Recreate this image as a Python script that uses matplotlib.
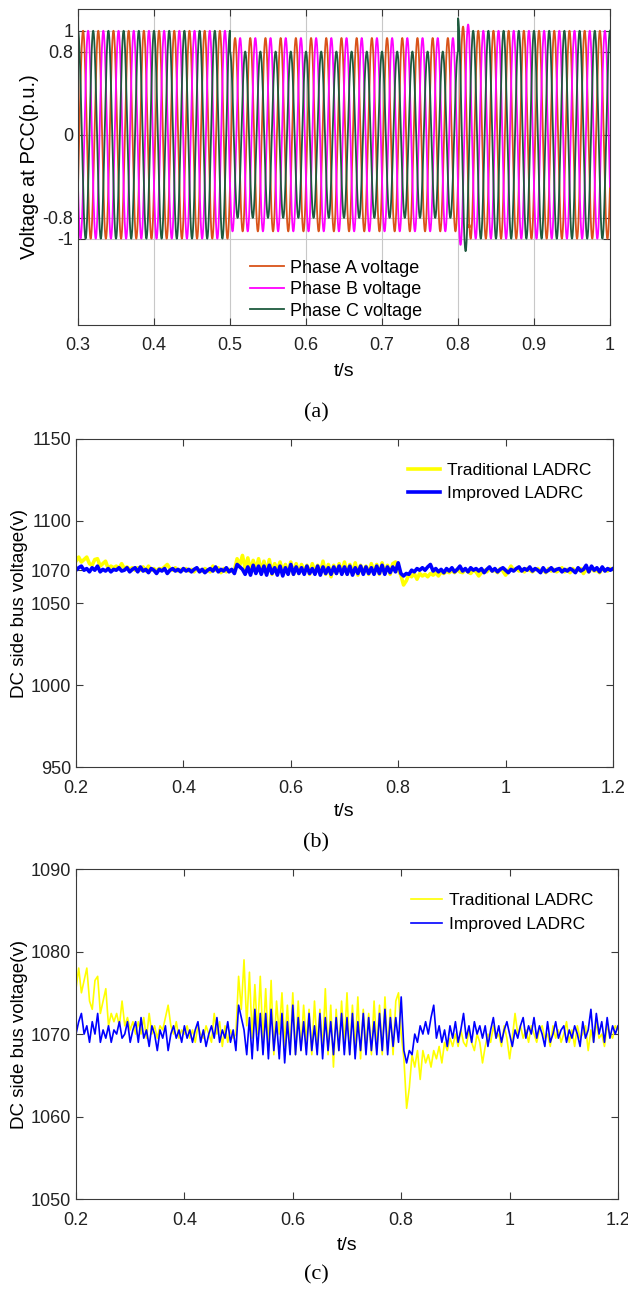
import matplotlib
matplotlib.use("Agg")
import matplotlib.pyplot as plt
import numpy as np

plt.rcParams['font.family'] = ['Liberation Sans', 'DejaVu Sans']

# ---- panel (a): three phase voltage at PCC ----
f_grid = 50.0
seg_edges = [0.3, 0.5, 0.8, 0.815, 1.0]
amp_A = [1.0, 0.93, 1.04, 1.0]
amp_B = [1.0, 0.93, 1.06, 1.0]
amp_C = [1.0, 0.80, 1.12, 1.0]
phase_shift = [-np.pi / 6, -5 * np.pi / 6, np.pi / 2]
phase_names = ['Phase A voltage', 'Phase B voltage', 'Phase C voltage']
phase_colors = ['#D95319', '#FF00FF', '#1E5A3E']

# ---- panels (b), (c): DC side bus voltage, sampled every 5 ms from 0.2 s ----
t_dc_start = 0.2
t_dc_step = 0.005
v_trad = [
    1075.5, 1078, 1075, 1076.5, 1078, 1074, 1073, 1076.5, 1077, 1072.5,
    1074, 1075.5, 1071, 1072.5, 1071.5, 1072.5, 1071, 1074, 1071, 1072,
    1070.5, 1071.5, 1070, 1071.5, 1070, 1072, 1069.5, 1072.5, 1070, 1071,
    1069.5, 1071, 1070.5, 1072, 1073.5, 1071, 1070, 1071.5, 1069.5, 1070.5,
    1070, 1071, 1069.5, 1070.5, 1069, 1071, 1070, 1069.5, 1071, 1070,
    1069, 1072.5, 1070, 1071.5, 1068.5, 1071, 1069, 1070.5, 1069.5, 1070,
    1077, 1073, 1079, 1071, 1077.5, 1069.5, 1076, 1070, 1077, 1069,
    1075.5, 1068, 1076.5, 1067.5, 1074, 1070, 1075, 1068.5, 1073.5, 1068,
    1075, 1067.5, 1074, 1068, 1073.5, 1069, 1073, 1067.5, 1074, 1068.5,
    1073, 1068, 1075.5, 1067.5, 1073.5, 1066, 1073, 1068, 1074, 1068.5,
    1075, 1067.5, 1073.5, 1068, 1074.5, 1067, 1073, 1068.5, 1072.5, 1067.5,
    1074, 1068, 1073.5, 1067.5, 1074.5, 1068, 1073, 1067.5, 1074, 1075,
    1070, 1067, 1061, 1063.5, 1067.5, 1066, 1068, 1064.5, 1068, 1066.5,
    1067.5, 1066, 1068, 1067, 1068.5, 1066.5, 1069, 1068, 1069.5, 1068.5,
    1070, 1068.5, 1070.5, 1069, 1068.5, 1070.5, 1069, 1068, 1070, 1069,
    1066.5, 1068.5, 1070, 1069, 1071, 1069.5, 1070, 1068.5, 1071, 1069.5,
    1067, 1069.5, 1072.5, 1070, 1071, 1069.5, 1070.5, 1069, 1071, 1070,
    1069, 1070.5, 1071, 1069.5, 1070, 1068.5, 1071, 1069.5, 1070.5, 1069,
    1070, 1071.5, 1069, 1070.5, 1068.5, 1071, 1069.5, 1070, 1071, 1068,
    1070.5, 1069, 1071.5, 1069.5, 1070, 1068.5, 1071, 1070, 1069.5, 1071,
    1070.5,
]
v_impr = [
    1070, 1071.5, 1072.5, 1070, 1071, 1069, 1071.5, 1070, 1072.5, 1069,
    1070.5, 1069.5, 1071, 1069, 1070.5, 1070, 1071.5, 1069.5, 1070, 1071.5,
    1069, 1070.5, 1071.5, 1069, 1072, 1069.5, 1070.5, 1068.5, 1071, 1070,
    1068, 1070.5, 1069.5, 1071, 1068, 1070, 1071, 1069.5, 1070.5, 1069,
    1071, 1069.5, 1070.5, 1069, 1070.5, 1071.5, 1069, 1070.5, 1068.5, 1070,
    1071, 1069.5, 1072, 1069, 1070.5, 1069.5, 1071.5, 1069, 1070.5, 1068,
    1073.5, 1072, 1070.5, 1067.5, 1072, 1067, 1073, 1068, 1072.5, 1067.5,
    1072.5, 1067, 1073, 1068, 1071.5, 1067, 1072.5, 1066.5, 1071.5, 1067.5,
    1073.5, 1067.5, 1072, 1068, 1071.5, 1067.5, 1072.5, 1068, 1071, 1067.5,
    1072.5, 1067, 1072, 1068, 1071.5, 1067.5, 1072, 1068, 1072.5, 1067.5,
    1072, 1067.5, 1072.5, 1067, 1071.5, 1068, 1072.5, 1067.5, 1072, 1068,
    1071.5, 1067.5, 1072.5, 1068, 1073, 1067.5, 1072, 1068.5, 1072, 1069,
    1074.5, 1068, 1066.5, 1068, 1067.5, 1070, 1069, 1071, 1070, 1071.5,
    1070, 1072, 1073.5, 1069.5, 1071, 1069, 1070.5, 1068.5, 1071, 1069.5,
    1071.5, 1069, 1070.5, 1072.5, 1069.5, 1071, 1069, 1071.5, 1070, 1071,
    1069.5, 1071, 1068.5, 1070.5, 1072, 1069.5, 1071, 1069, 1070.5, 1071.5,
    1070, 1068.5, 1070.5, 1069.5, 1071, 1072, 1069.5, 1071, 1070, 1072,
    1069.5, 1071, 1070, 1068.5, 1071.5, 1069, 1070, 1071.5, 1069.5, 1070.5,
    1071, 1069, 1070.5, 1069.5, 1071, 1070, 1068.5, 1071.5, 1069.5, 1070.5,
    1073, 1069, 1072.5, 1070, 1071.5, 1069, 1072, 1069.5, 1071, 1070,
    1071,
]
dc_names = ['Traditional LADRC', 'Improved LADRC']
dc_colors = ['#FFFF00', '#0000FF']

xt_a = [0.3, 0.4, 0.5, 0.6, 0.7, 0.8, 0.9, 1.0]
xt_a_lab = ['0.3', '0.4', '0.5', '0.6', '0.7', '0.8', '0.9', '1']
yt_a = [-1, -0.8, 0, 0.8, 1]
yt_a_lab = ['-1', '-0.8', '0', '0.8', '1']
xt_dc = [0.2, 0.4, 0.6, 0.8, 1.0, 1.2]
xt_dc_lab = ['0.2', '0.4', '0.6', '0.8', '1', '1.2']
yt_b = [950, 1000, 1050, 1070, 1100, 1150]
yt_c = [1050, 1060, 1070, 1080, 1090]

axcol = '#3a3a3a'
fs = 13


def style(ax):
    ax.tick_params(direction='in', top=True, right=True, length=5, width=0.8,
                   colors=axcol, labelcolor='#222222', labelsize=fs)
    ax.tick_params(axis='x', pad=9)
    for s in ax.spines.values():
        s.set_color(axcol)
        s.set_linewidth(0.8)


fig = plt.figure(figsize=(6.28, 12.90), dpi=100)

# (a)
ax1 = fig.add_axes([0.1242, 0.7481, 0.8471, 0.2450])
t = np.linspace(0.3, 1.0, 14001)
amps = [amp_A, amp_B, amp_C]
for k in range(3):
    env = np.ones_like(t)
    for j in range(len(seg_edges) - 1):
        m = (t >= seg_edges[j]) & (t <= seg_edges[j + 1])
        env[m] = amps[k][j]
    v = env * np.sin(2 * np.pi * f_grid * t + phase_shift[k])
    ax1.plot(t, v, color=phase_colors[k], lw=1.3, label=phase_names[k])
ax1.set_xlim(0.3, 1.0)
ax1.set_ylim(-1.83, 1.21)
ax1.set_xticks(xt_a, xt_a_lab)
ax1.set_yticks(yt_a, yt_a_lab)
ax1.grid(True, color='#c8c8c8', lw=0.8)
style(ax1)
ax1.set_xlabel('t/s', fontsize=14, labelpad=6)
ax1.set_ylabel('Voltage at PCC(p.u.)', fontsize=14.5, labelpad=2)
ax1.legend(loc='upper center', bbox_to_anchor=(0.485, 0.235), frameon=False,
           fontsize=fs, handlelength=1.9, handletextpad=0.3, labelspacing=0.25,
           borderpad=0)

t_dc = t_dc_start + t_dc_step * np.arange(len(v_trad))

# (b)
ax2 = fig.add_axes([0.1210, 0.4054, 0.8551, 0.2543])
ax2.plot(t_dc, v_trad, color=dc_colors[0], lw=2.6, label=dc_names[0])
ax2.plot(t_dc, v_impr, color=dc_colors[1], lw=2.6, label=dc_names[1])
ax2.set_xlim(0.2, 1.2)
ax2.set_ylim(950, 1150)
ax2.set_xticks(xt_dc, xt_dc_lab)
ax2.set_yticks(yt_b, [str(v) for v in yt_b])
style(ax2)
ax2.set_xlabel('t/s', fontsize=14, labelpad=5)
ax2.set_ylabel('DC side bus voltage(v)', fontsize=13.5, labelpad=2)
ax2.legend(loc='upper right', bbox_to_anchor=(0.975, 0.955), frameon=False,
           fontsize=12.5, handlelength=1.8, handletextpad=0.4, labelspacing=0.5,
           borderpad=0)

# (c)
ax3 = fig.add_axes([0.1210, 0.0705, 0.8631, 0.2558])
ax3.plot(t_dc, v_trad, color=dc_colors[0], lw=1.2, label=dc_names[0])
ax3.plot(t_dc, v_impr, color=dc_colors[1], lw=1.2, label=dc_names[1])
ax3.set_xlim(0.2, 1.2)
ax3.set_ylim(1050, 1090)
ax3.set_xticks(xt_dc, xt_dc_lab)
ax3.set_yticks(yt_c, [str(v) for v in yt_c])
style(ax3)
ax3.set_xlabel('t/s', fontsize=14, labelpad=6)
ax3.set_ylabel('DC side bus voltage(v)', fontsize=13.5, labelpad=2)
ax3.legend(loc='upper right', bbox_to_anchor=(0.97, 0.955), frameon=False,
           fontsize=12.5, handlelength=1.8, handletextpad=0.4, labelspacing=0.5,
           borderpad=0)

for lab, y in [('(a)', 0.680), ('(b)', 0.3465), ('(c)', 0.0116)]:
    fig.text(0.503, y, lab, ha='center', va='center', fontsize=16,
             family=['Liberation Serif', 'DejaVu Serif'])

fig.savefig('out.png', dpi=100)
